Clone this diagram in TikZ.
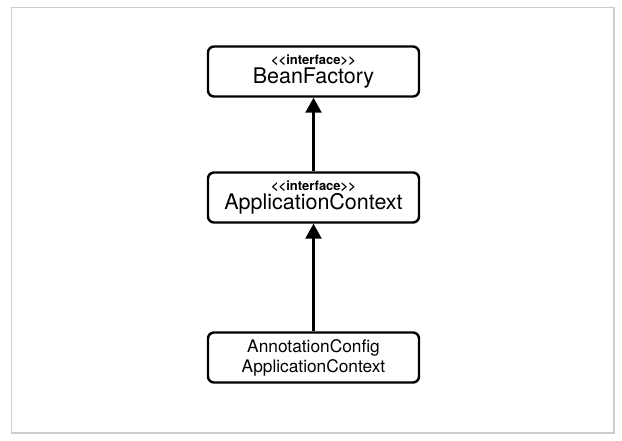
\documentclass[tikz,border=0pt]{standalone}
\usepackage{fontspec}
\setmainfont{TeX Gyre Heros}
\usetikzlibrary{positioning}
\usetikzlibrary{arrows.meta}

\newcommand{\stereotype}[1]{{\fontsize{13}{19}\selectfont\bfseries <\kern0pt<#1>\kern0pt>}}

\begin{document}
\begin{tikzpicture}
    [
        x=1pt, y=-1pt,
        classbox/.style={
            align=center,
            rectangle,
            rounded corners=6pt,
            draw=black,
            line width=2.4pt,
            minimum width=211pt,
            minimum height=50pt,
            inner sep=0pt
        },
        inherits/.style={
            line width=2.4pt,
            -{Triangle[width=16pt,length=15pt]}
        }
    ]
        \useasboundingbox (0, 0) rectangle (622, 441);
        \draw[black!20, line width=1.2pt] (11.5, 7.5) rectangle (614, 433);

        \node
        [
            classbox,
            font=\fontsize{21.5}{19}\selectfont
        ] (factory) at (313.5, 71.5) {\stereotype{interface}\\BeanFactory};
        \node
        [
            classbox,
            font=\fontsize{21.5}{19}\selectfont
        ] (context) at (313.5, 197.5) {\stereotype{interface}\\ApplicationContext};
        \node
        [
            classbox,
            font=\fontsize{17.3}{20}\selectfont
        ] (annotation) at (313.5, 357.5) {AnnotationConfig\\ApplicationContext};

        \draw[inherits] (context) -- (factory);
        \draw[inherits] (annotation) -- (context);
    \end{tikzpicture}
\end{document}
